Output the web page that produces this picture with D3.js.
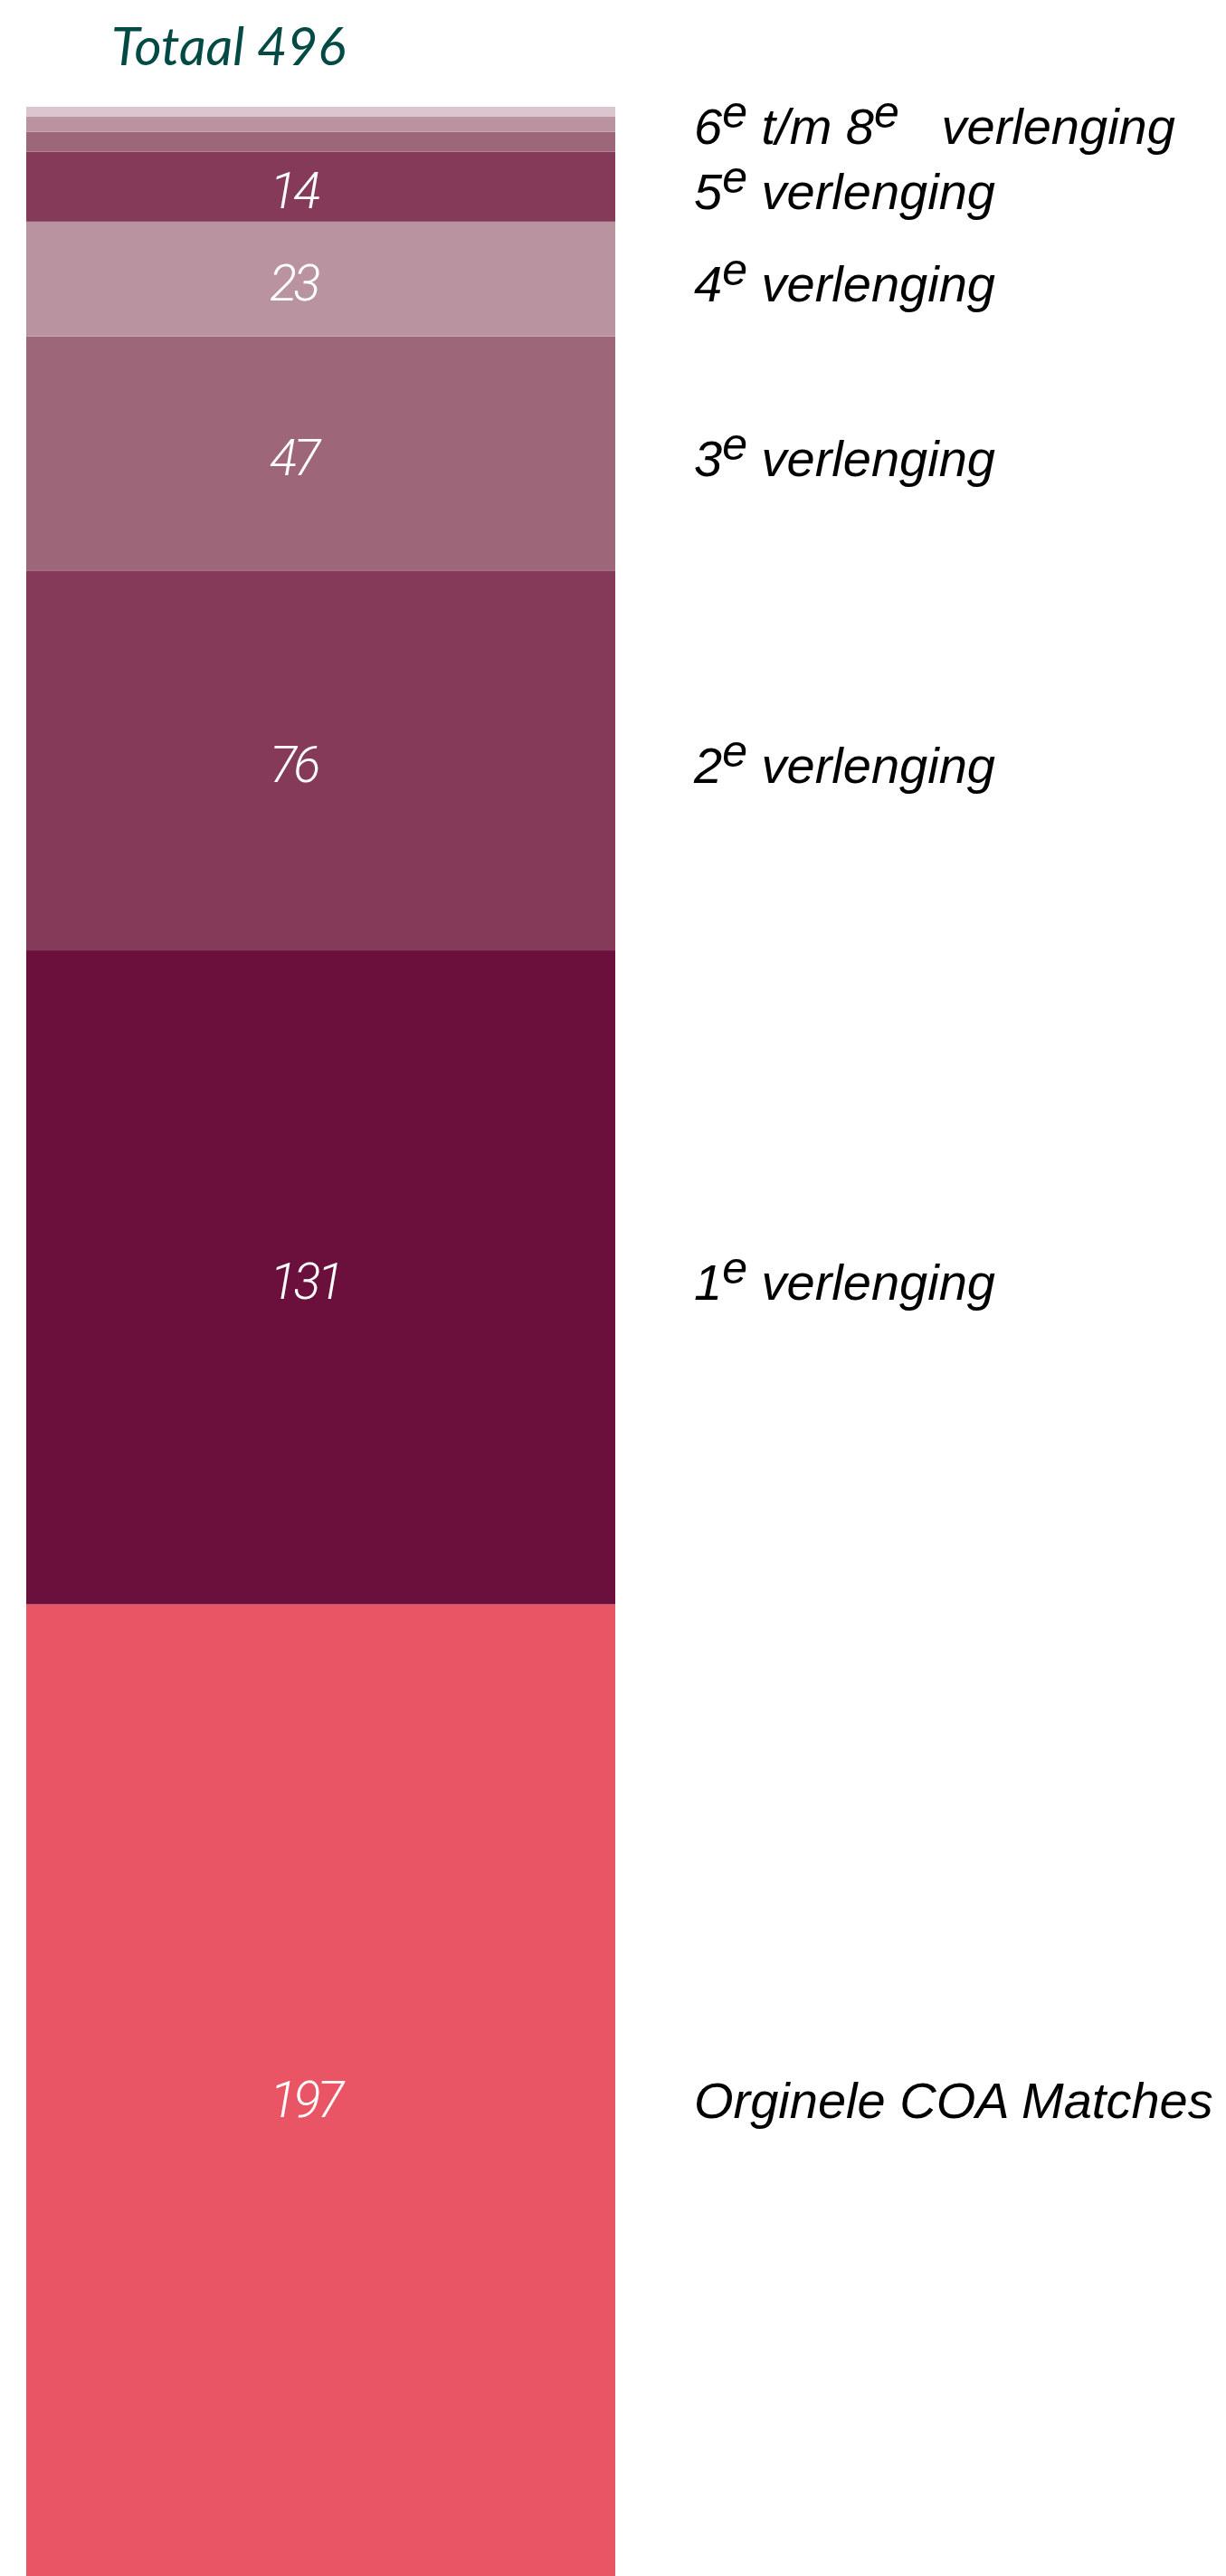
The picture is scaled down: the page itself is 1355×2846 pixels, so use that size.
<!DOCTYPE html>
<html>
<head>
<meta charset="utf-8">
<script src="https://cdn.jsdelivr.net/npm/d3@7"></script>
<style>
  body { margin: 0; background: #ffffff; }
  svg { display: block; }
</style>
</head>
<body>
<svg id="chart"></svg>
<script>
// Totaal aantal COA matches, gestapeld per verlenging
const categories = ["Orginele COA Matches", "1e verlenging", "2e verlenging", "3e verlenging",
    "4e verlenging", "5e verlenging", "6e verlenging", "7e verlenging", "8e verlenging"];
const values = [197, 131, 76, 47, 23, 14, 4, 3, 2];
const colors = ["#EA5566", "#6B103C", "#843A58", "#9E6679", "#BA93A1", "#843A58", "#9E6679", "#BA93A1", "#DBC6CF"];
const valueLabels = ["197", "131", "76", "47", "23", "14"];
// label parts: [text, superscript?]
const sideLabels = [
    [["Orginele COA Matches", false]],
    [["1", false], ["e", true], [" verlenging", false]],
    [["2", false], ["e", true], [" verlenging", false]],
    [["3", false], ["e", true], [" verlenging", false]],
    [["4", false], ["e", true], [" verlenging", false]],
    [["5", false], ["e", true], [" verlenging", false]],
    [["6", false], ["e", true], [" t/m 8", false], ["e", true], ["   verlenging", false]]
];
const title = "Totaal 496";

const width = 1355, height = 2846;
const barTop = 118, pxPerUnit = 5.515;

const svg = d3.select("#chart")
    .attr("width", width)
    .attr("height", height);

let cum = 0;
const stacked = values.map((v, i) => {
    const d = { cat: categories[i], value: v, y0: cum, y1: cum + v, color: colors[i] };
    cum += v;
    return d;
});
const total = cum;

const x = d3.scaleBand().domain(["Totaal"]).range([29, 680]).padding(0);
const y = d3.scaleLinear().domain([0, total]).range([barTop + total * pxPerUnit, barTop]);

svg.append("text")
    .attr("x", 123)
    .attr("y", 72)
    .style("font-family", "Lato, 'Noto Sans', sans-serif")
    .style("font-style", "italic")
    .style("font-size", "58px")
    .style("fill", "#024A43")
    .text(title);

svg.selectAll(".seg")
    .data(stacked)
    .enter().append("rect")
    .attr("class", "seg")
    .attr("x", x("Totaal"))
    .attr("width", x.bandwidth())
    .attr("y", d => y(d.y1))
    .attr("height", d => y(d.y0) - y(d.y1))
    .attr("fill", d => d.color);

// numbers inside the bar
svg.selectAll(".val")
    .data(stacked.slice(0, valueLabels.length))
    .enter().append("text")
    .attr("class", "val")
    .attr("x", 298)
    .attr("y", d => (y(d.y0) + y(d.y1)) / 2)
    .attr("dy", "0.42em")
    .style("font-family", "Roboto, 'Noto Sans', sans-serif")
    .style("font-style", "italic")
    .style("font-weight", "300")
    .style("font-size", "56px")
    .style("letter-spacing", "-4px")
    .style("fill", "#ffffff")
    .text((d, i) => valueLabels[i]);

// labels to the right, the last one covers 6e t/m 8e
const labelY = sideLabels.map((parts, i) => {
    if (i < 6) return (y(stacked[i].y0) + y(stacked[i].y1)) / 2;
    return (y(stacked[6].y0) + y(stacked[stacked.length - 1].y1)) / 2 - 8;
});

sideLabels.forEach(function (parts, i) {
    const t = svg.append("text")
        .attr("x", 767)
        .attr("y", labelY[i])
        .attr("dy", "0.44em")
        .style("font-family", "'Liberation Sans', Arial, sans-serif")
        .style("font-style", "italic")
        .style("font-size", "56px")
        .style("white-space", "pre")
        .style("fill", "#000000");
    let raised = false;
    parts.forEach(function (p) {
        const span = t.append("tspan").text(p[0]);
        if (p[1]) {
            span.attr("dy", "-0.36em").style("font-size", "50px");
            raised = true;
        } else if (raised) {
            span.attr("dy", "0.32em");
            raised = false;
        }
    });
});
</script>
</body>
</html>
